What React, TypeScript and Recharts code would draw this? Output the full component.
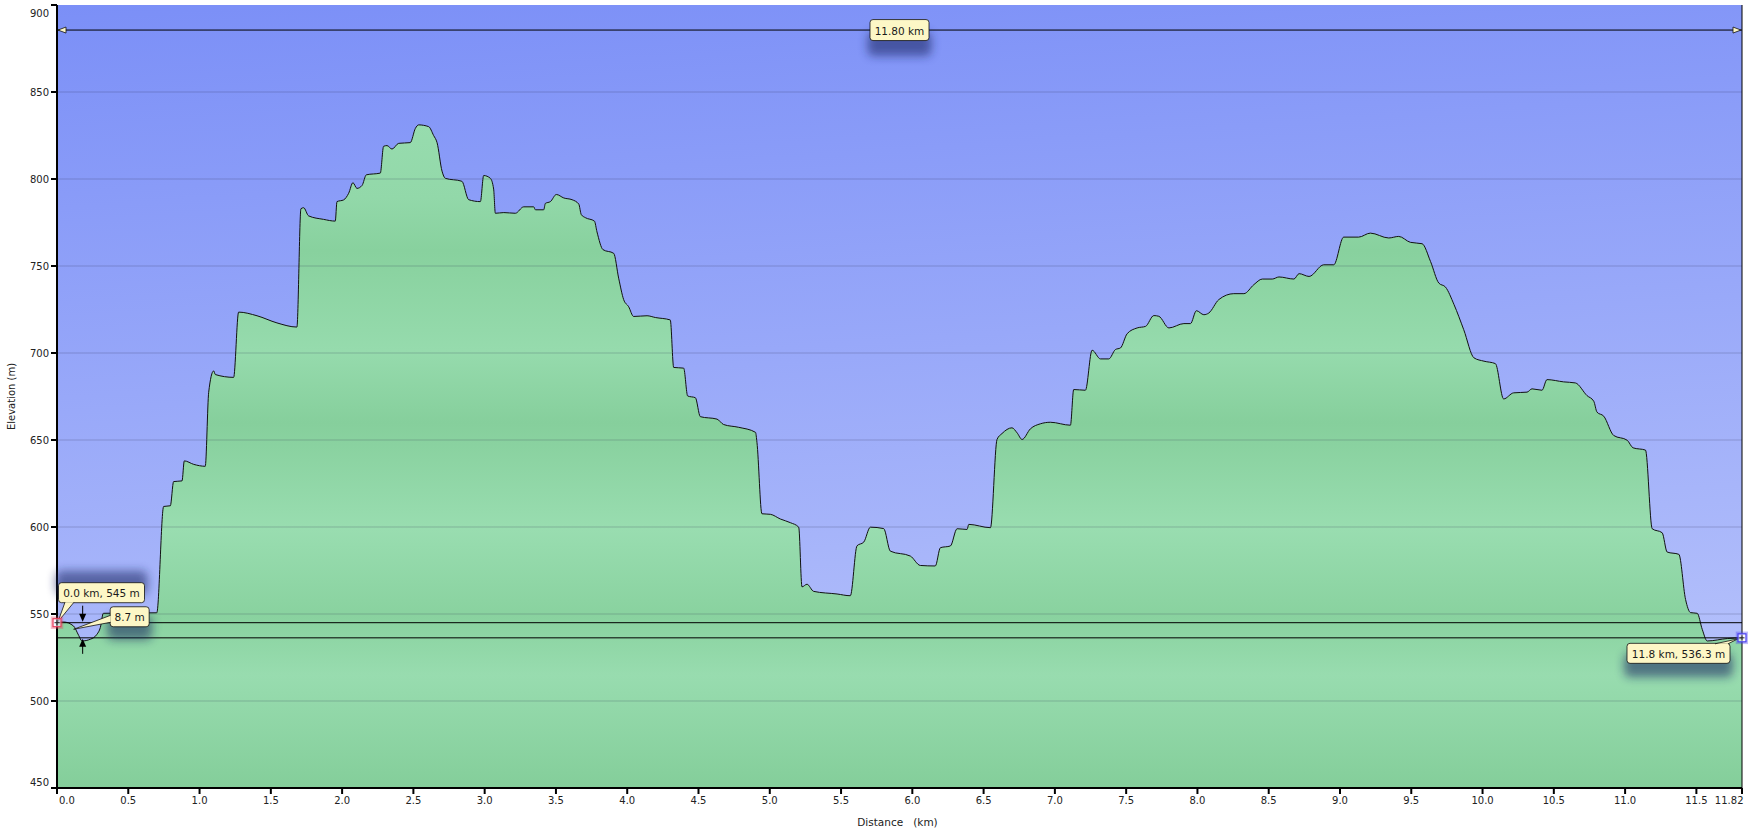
import React from 'react';
import {
  AreaChart,
  Area,
  XAxis,
  YAxis,
  CartesianGrid,
  ReferenceLine,
  ReferenceDot,
} from 'recharts';

// distance along the track (km)
const DISTANCE_KM = [
  0, 0.046, 0.116, 0.152, 0.175, 0.234, 0.28, 0.304, 0.325, 0.7,
  0.748, 0.795, 0.818, 0.877, 0.893, 0.959, 1.04, 1.064, 1.099, 1.111,
  1.239, 1.274, 1.403, 1.543, 1.683, 1.711, 1.73, 1.765, 1.87, 1.952,
  1.964, 2.011, 2.046, 2.076, 2.104, 2.14, 2.17, 2.268, 2.291, 2.315,
  2.35, 2.397, 2.478, 2.514, 2.537, 2.607, 2.642, 2.666, 2.701, 2.724,
  2.84, 2.888, 2.97, 2.993, 3.04, 3.063, 3.075, 3.134, 3.215, 3.274,
  3.344, 3.356, 3.414, 3.426, 3.461, 3.503, 3.555, 3.613, 3.66, 3.678,
  3.706, 3.77, 3.788, 3.83, 3.905, 3.94, 3.975, 4.01, 4.045, 4.139,
  4.197, 4.302, 4.326, 4.396, 4.424, 4.478, 4.513, 4.63, 4.676, 4.782,
  4.9, 4.91, 4.945, 5.004, 5.074, 5.144, 5.203, 5.226, 5.261, 5.308,
  5.472, 5.565, 5.612, 5.659, 5.706, 5.799, 5.846, 5.986, 6.056, 6.161,
  6.197, 6.267, 6.314, 6.384, 6.396, 6.548, 6.594, 6.629, 6.699, 6.735,
  6.77, 6.828, 6.898, 6.968, 7.109, 7.132, 7.214, 7.261, 7.32, 7.378,
  7.425, 7.46, 7.507, 7.577, 7.636, 7.694, 7.729, 7.8, 7.905, 7.951,
  7.993, 8.045, 8.08, 8.15, 8.255, 8.326, 8.396, 8.455, 8.525, 8.572,
  8.677, 8.713, 8.783, 8.886, 8.956, 9.026, 9.131, 9.213, 9.342, 9.412,
  9.494, 9.576, 9.635, 9.693, 9.74, 9.8, 9.868, 9.94, 10.01, 10.09,
  10.148, 10.218, 10.312, 10.347, 10.417, 10.452, 10.569, 10.651, 10.733, 10.78,
  10.803, 10.85, 10.92, 11.014, 11.056, 11.143, 11.19, 11.26, 11.295, 11.377,
  11.424, 11.459, 11.506, 11.541, 11.576, 11.717, 11.82,
];

// elevation at each distance (m)
const ELEVATION_M = [
  545, 545.4, 543.1, 537.7, 534.5, 535.5, 538.3, 542.2, 550.4, 550.7,
  611.8, 612.2, 626.1, 626.5, 638, 636, 634.9, 677.4, 689.7, 687.6,
  686, 723.5, 721.4, 717.3, 714.9, 782.9, 783.5, 778.8, 776.8, 775.8,
  787, 788, 791.8, 797.9, 794.6, 796.3, 802.4, 803.4, 818.8, 819.2,
  817.2, 820.5, 820.9, 829.1, 831.1, 830.1, 825, 820.9, 804.5, 800.4,
  798.7, 788.1, 787, 802, 800.4, 794.2, 780.3, 780.7, 780.3, 784,
  784, 782.3, 782.3, 786, 787, 791.1, 789.1, 788.1, 785.6, 779.5,
  777.8, 775.8, 769.6, 759.4, 757.3, 743, 730.7, 726.6, 721, 721.4,
  720.4, 719, 691.7, 691.3, 675.3, 674.3, 663.4, 662, 658.9, 657.3,
  654.4, 648.7, 607.6, 607.3, 604.6, 602.5, 599.9, 565.6, 567.1, 563,
  561.5, 560.5, 589.2, 591.3, 599.9, 599.1, 586.1, 583.3, 577.9, 577.6,
  588.1, 589.1, 599, 598.6, 601.5, 599.6, 650.3, 653.7, 657, 654.1,
  650.3, 656.4, 659.3, 660.2, 658.5, 679, 678.6, 701.6, 696.6, 696.6,
  702, 702.9, 711.1, 714.4, 715.3, 721.5, 721.1, 714.4, 716.9, 716.9,
  724.3, 722, 723, 730.7, 734.1, 734.1, 739.3, 742.5, 742.5, 743.7,
  742.5, 745.6, 744, 750.7, 750.7, 766.6, 766.6, 768.9, 766.1, 767,
  763.6, 762.8, 752.6, 740.2, 737.9, 727.8, 713.4, 697.2, 695.3, 693.9,
  673.6, 677.1, 677.5, 679.4, 678.6, 684.7, 683.4, 682.8, 675.5, 672.3,
  666, 663.7, 652.6, 649.9, 645.5, 644.2, 599, 596.7, 585.6, 584.3,
  558.4, 550.8, 550.4, 541.2, 534.5, 535.9, 536.3,
];

const X_TICKS = [0, 0.5, 1, 1.5, 2, 2.5, 3, 3.5, 4, 4.5, 5, 5.5, 6, 6.5, 7, 7.5, 8, 8.5, 9, 9.5, 10, 10.5, 11, 11.5, 11.82];
const Y_TICKS = [450, 500, 550, 600, 650, 700, 750, 800, 850, 900];
const GRID_LEVELS = [500, 550, 600, 650, 700, 750, 800, 850];

const START_KM = 0;
const START_ELEV = 545;
const END_KM = 11.82;
const END_ELEV = 536.3;
const DIFF_KM = 0.18;
const DIM_ELEV = 885.6;

const START_TEXT = '0.0 km, 545 m';
const END_TEXT = '11.8 km, 536.3 m';
const DIFF_TEXT = '8.7 m';
const TOTAL_TEXT = '11.80 km';

const data = DISTANCE_KM.map((km, i) => ({ km, elev: ELEVATION_M[i] }));

const FONT = '"DejaVu Sans", Verdana, sans-serif';
const BOX_FILL = '#fdf7c6';

const Shadow = ({ x, y, w, h }: any) => (
  <rect x={x} y={y} width={w} height={h} rx={6} fill="#16235e" opacity={0.55} filter="url(#calloutBlur)" />
);

const BoxText = ({ x, y, children }: any) => (
  <text x={x} y={y} textAnchor="middle" dominantBaseline="central" fontFamily={FONT} fontSize={10.5} fill="#1a1a1a">
    {children}
  </text>
);

// callout box with a wedge tail pointing at (tx, ty)
const Callout = ({ bx, by, bw, bh, b1, b2, tx, ty, text, shadowDy }: any) => (
  <g>
    <Shadow x={bx - 3} y={by + shadowDy} w={bw + 6} h={bh + 4} />
    <rect x={bx} y={by} width={bw} height={bh} rx={3} fill={BOX_FILL} stroke="#111" strokeWidth={0.8} />
    <polygon points={`${b1[0]},${b1[1]} ${tx},${ty} ${b2[0]},${b2[1]}`} fill={BOX_FILL} stroke="none" />
    <line x1={b1[0]} y1={b1[1]} x2={tx} y2={ty} stroke="#111" strokeWidth={0.8} />
    <line x1={b2[0]} y1={b2[1]} x2={tx} y2={ty} stroke="#111" strokeWidth={0.8} />
    <BoxText x={bx + bw / 2} y={by + bh / 2 + 0.5}>{text}</BoxText>
  </g>
);

const StartCallout = ({ cx, cy }: any) => {
  const bx = cx + 1.5;
  const by = cy - 40;
  return (
    <Callout bx={bx} by={by} bw={86} bh={20} b1={[cx + 8, by + 19.5]} b2={[cx + 17, by + 19.5]}
      tx={cx + 1} ty={cy - 1} text={START_TEXT} shadowDy={-12} />
  );
};

const EndCallout = ({ cx, cy }: any) => {
  const bx = cx - 115;
  const by = cy + 5.5;
  return (
    <Callout bx={bx} by={by} bw={103} bh={20} b1={[cx - 27, by + 0.5]} b2={[cx - 14, by + 0.5]}
      tx={cx - 4} ty={cy + 1} text={END_TEXT} shadowDy={10} />
  );
};

const DiffCallout = ({ cx, cy }: any) => {
  const bx = cx + 27.5;
  const by = cy - 23.5;
  return (
    <Callout bx={bx} by={by} bw={39} bh={20} b1={[bx + 0.5, cy - 15]} b2={[bx + 0.5, cy - 8]}
      tx={cx - 9} ty={cy - 1} text={DIFF_TEXT} shadowDy={9} />
  );
};

const TotalLabel = ({ cx, cy }: any) => (
  <g>
    <Shadow x={cx - 32} y={cy + 2} w={64} h={24} />
    <rect x={cx - 29.5} y={cy - 10.5} width={59} height={21} rx={3} fill={BOX_FILL} stroke="#111" strokeWidth={0.8} />
    <BoxText x={cx} y={cy + 0.5}>{TOTAL_TEXT}</BoxText>
  </g>
);

const DownArrow = ({ cx, cy }: any) => (
  <g>
    <line x1={cx} y1={cy - 17} x2={cx} y2={cy - 6} stroke="#000" strokeWidth={1} />
    <polygon points={`${cx - 3.5},${cy - 9} ${cx + 3.5},${cy - 9} ${cx},${cy - 1}`} fill="#000" />
  </g>
);

const UpArrow = ({ cx, cy }: any) => (
  <g>
    <line x1={cx} y1={cy + 16} x2={cx} y2={cy + 6} stroke="#000" strokeWidth={1} />
    <polygon points={`${cx - 3.5},${cy + 9} ${cx + 3.5},${cy + 9} ${cx},${cy + 1}`} fill="#000" />
  </g>
);

const Marker = ({ cx, cy, color }: any) => (
  <g>
    <rect x={cx - 5} y={cy - 5} width={10} height={10} fill="none" stroke={color} strokeOpacity={0.35} strokeWidth={2.5} />
    <rect x={cx - 4} y={cy - 4} width={8} height={8} fill="#f4f4ff" fillOpacity={0.6} stroke={color} strokeWidth={1.2} />
    <line x1={cx - 2.5} y1={cy} x2={cx + 2.5} y2={cy} stroke="#222" strokeWidth={1} />
    <line x1={cx} y1={cy - 2.5} x2={cx} y2={cy + 2.5} stroke="#222" strokeWidth={1} />
  </g>
);

const ArrowHead = ({ cx, cy, dir }: any) => (
  <polygon
    points={`${cx + dir},${cy} ${cx + dir * 9},${cy - 3} ${cx + dir * 9},${cy + 3}`}
    fill={BOX_FILL}
    stroke="#111"
    strokeWidth={0.8}
  />
);

const XTick = ({ x, y, payload }: any) => {
  const v = payload.value;
  const last = X_TICKS[X_TICKS.length - 1];
  const anchor = v === 0 ? 'start' : v === last ? 'end' : 'middle';
  const dx = v === 0 ? 2 : v === last ? 1.5 : 0;
  return (
    <text x={x + dx} y={y} dy="0.71em" textAnchor={anchor} fontFamily={FONT} fontSize={10} fill="#222">
      {v === last ? String(v) : v.toFixed(1)}
    </text>
  );
};

const YTick = ({ x, y, payload }: any) => {
  const v = payload.value;
  const shift = v === Y_TICKS[Y_TICKS.length - 1] ? 8 : v === Y_TICKS[0] ? -6 : 0;
  return (
    <text x={x} y={y + shift} textAnchor="end" dominantBaseline="central" fontFamily={FONT} fontSize={10} fill="#222">
      {v}
    </text>
  );
};

const XTitle = ({ viewBox }: any) => (
  <text x={viewBox.x + viewBox.width / 2 - 2} y={viewBox.y + 34} textAnchor="middle" dominantBaseline="central"
    fontFamily={FONT} fontSize={10.5} fill="#222" xmlSpace="preserve" style={{ whiteSpace: 'pre' }}>
    {'Distance   (km)'}
  </text>
);

const YTitle = ({ viewBox }: any) => {
  const cx = viewBox.x + 11;
  const cy = viewBox.y + viewBox.height / 2;
  return (
    <text x={cx} y={cy} transform={`rotate(-90 ${cx} ${cy})`} textAnchor="middle" dominantBaseline="central"
      fontFamily={FONT} fontSize={10} fill="#222">
      Elevation (m)
    </text>
  );
};

export default function App() {
  return (
    <div style={{ position: 'absolute', left: 0, top: 0, background: '#fff' }}>
      <AreaChart width={1748} height={833} data={data} margin={{ top: 5, right: 6, bottom: 0, left: 0 }}>
        <defs>
          <linearGradient id="skyFill" x1="0" y1="0" x2="0.15" y2="1">
            <stop offset="0%" stopColor="#7b8ff7" />
            <stop offset="100%" stopColor="#b6c2fb" />
          </linearGradient>
          <linearGradient id="groundFill" x1="0" y1="0" x2="0" y2="1">
            <stop offset="0%" stopColor="#97dcae" />
            <stop offset="11%" stopColor="#92d8a9" />
            <stop offset="19%" stopColor="#88d19e" />
            <stop offset="34%" stopColor="#96dbad" />
            <stop offset="45%" stopColor="#86cf9c" />
            <stop offset="61%" stopColor="#99ddb0" />
            <stop offset="74%" stopColor="#89d29f" />
            <stop offset="83%" stopColor="#98dcaf" />
            <stop offset="100%" stopColor="#84ce9a" />
          </linearGradient>
          <filter id="calloutBlur" x="-50%" y="-100%" width="200%" height="300%">
            <feGaussianBlur stdDeviation="5" />
          </filter>
        </defs>
        <CartesianGrid horizontal={false} vertical={false} fill="url(#skyFill)" />
        <XAxis
          dataKey="km"
          type="number"
          domain={[0, 11.82]}
          ticks={X_TICKS}
          interval={0}
          height={45}
          tickSize={6}
          tickMargin={3}
          axisLine={{ stroke: '#000', strokeWidth: 2 }}
          tickLine={{ stroke: '#000', strokeWidth: 2 }}
          tick={<XTick />}
          label={<XTitle />}
        />
        <YAxis
          type="number"
          domain={[450, 900]}
          ticks={Y_TICKS}
          interval={0}
          width={57}
          tickSize={6}
          tickMargin={2}
          axisLine={{ stroke: '#000', strokeWidth: 2 }}
          tickLine={{ stroke: '#000', strokeWidth: 2 }}
          tick={<YTick />}
          label={<YTitle />}
        />
        <Area
          type="monotone"
          dataKey="elev"
          stroke="#111"
          strokeWidth={1}
          fill="url(#groundFill)"
          fillOpacity={1}
          isAnimationActive={false}
          dot={false}
          activeDot={false}
        />
        {GRID_LEVELS.map((v) => (
          <ReferenceLine key={v} y={v} stroke="#2a2a48" strokeOpacity={0.22} strokeWidth={1.2} />
        ))}
        <ReferenceLine x={END_KM} stroke="#000" strokeWidth={1} />
        <ReferenceLine y={START_ELEV} stroke="#000" strokeWidth={1} />
        <ReferenceLine y={END_ELEV} stroke="#000" strokeWidth={1} />
        <ReferenceLine y={DIM_ELEV} stroke="#000" strokeWidth={1} />
        <ReferenceDot x={START_KM} y={DIM_ELEV} r={0} shape={(p: any) => <ArrowHead cx={p.cx} cy={p.cy} dir={1} />} />
        <ReferenceDot x={END_KM} y={DIM_ELEV} r={0} shape={(p: any) => <ArrowHead cx={p.cx} cy={p.cy} dir={-1} />} />
        <ReferenceDot x={END_KM / 2} y={DIM_ELEV} r={0} shape={(p: any) => <TotalLabel cx={p.cx} cy={p.cy} />} />
        <ReferenceDot x={DIFF_KM} y={START_ELEV} r={0} shape={(p: any) => <DownArrow cx={p.cx} cy={p.cy} />} />
        <ReferenceDot x={DIFF_KM} y={END_ELEV} r={0} shape={(p: any) => <UpArrow cx={p.cx} cy={p.cy} />} />
        <ReferenceDot x={DIFF_KM} y={(START_ELEV + END_ELEV) / 2} r={0} shape={(p: any) => <DiffCallout cx={p.cx} cy={p.cy} />} />
        <ReferenceDot x={START_KM} y={START_ELEV} r={0} shape={(p: any) => <StartCallout cx={p.cx} cy={p.cy} />} />
        <ReferenceDot x={END_KM} y={END_ELEV} r={0} shape={(p: any) => <EndCallout cx={p.cx} cy={p.cy} />} />
        <ReferenceDot x={START_KM} y={START_ELEV} r={0} shape={(p: any) => <Marker cx={p.cx} cy={p.cy} color="#e8405e" />} />
        <ReferenceDot x={END_KM} y={END_ELEV} r={0} shape={(p: any) => <Marker cx={p.cx} cy={p.cy} color="#4a40f0" />} />
      </AreaChart>
    </div>
  );
}
